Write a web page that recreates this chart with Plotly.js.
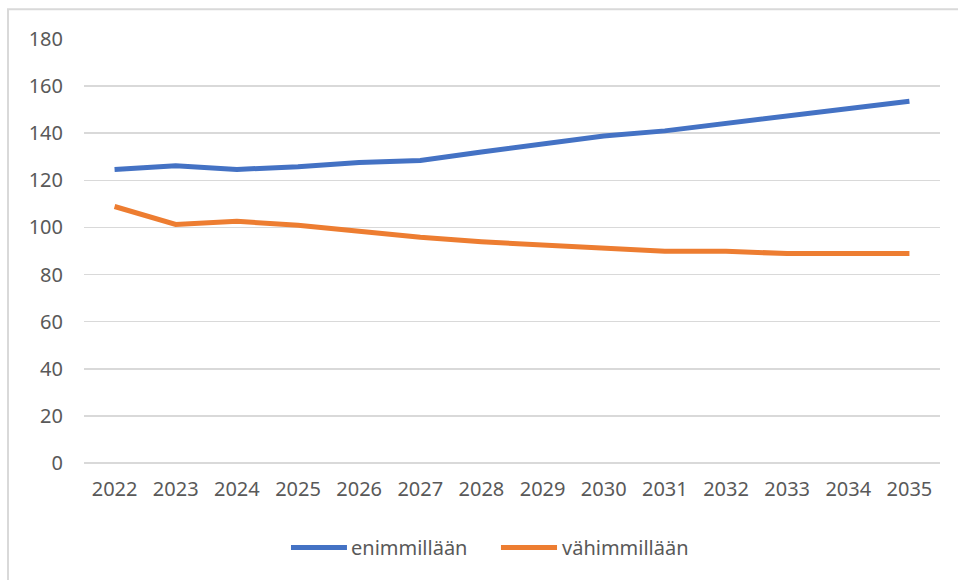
<!DOCTYPE html>
<html>
<head>
<meta charset="utf-8">
<script src="https://cdn.plot.ly/plotly-3.0.1.min.js"></script>
<style>
  html, body { margin: 0; padding: 0; background: #ffffff; }
  #chart { width: 958px; height: 580px; }
</style>
</head>
<body>
<div id="chart"></div>
<script>
const years = ["2022","2023","2024","2025","2026","2027","2028","2029","2030","2031","2032","2033","2034","2035"];
const enimmillaan = [124.6, 126.2, 124.6, 125.8, 127.6, 128.4, 132.0, 135.2, 138.8, 141.0, 144.1, 147.6, 150.5, 153.6];
const vahimmillaan = [108.9, 101.3, 102.6, 100.9, 98.4, 95.8, 93.9, 92.4, 91.3, 89.9, 89.9, 88.9, 88.9, 88.9];
const seriesNames = ["enimmillään", "vähimmillään"];
const seriesColors = ['#4472C4', '#ED7D31'];
const yTicks = [0, 20, 40, 60, 80, 100, 120, 140, 160, 180];

const fontFam = '"Noto Sans", "Open Sans", "DejaVu Sans", sans-serif';
const textColor = '#595959';
const gridColor = '#d9d9d9';

const traces = [
  {
    x: years, y: enimmillaan, name: seriesNames[0], type: 'scatter', mode: 'lines',
    line: { color: seriesColors[0], width: 5, shape: 'linear' }
  },
  {
    x: years, y: vahimmillaan, name: seriesNames[1], type: 'scatter', mode: 'lines',
    line: { color: seriesColors[1], width: 5, shape: 'linear' }
  }
];

// Legend drawn in Excel style (long line keys) below the plot
const legendY = -0.199;
const legendItems = [
  { x0: 0.2418, x1: 0.3072, tx: 0.3100 },
  { x0: 0.4871, x1: 0.5526, tx: 0.5560 }
];
const legendShapes = legendItems.map((it, i) => ({
  type: 'line', xref: 'paper', yref: 'paper',
  x0: it.x0, x1: it.x1, y0: legendY, y1: legendY,
  line: { color: seriesColors[i], width: 5 }
}));
const legendAnnots = legendItems.map((it, i) => ({
  xref: 'paper', yref: 'paper', x: it.tx, y: legendY,
  xanchor: 'left', yanchor: 'middle', showarrow: false,
  text: seriesNames[i],
  font: { family: fontFam, size: 20, color: textColor }
}));

const layout = {
  width: 958, height: 580,
  margin: { l: 84, r: 18, t: 39, b: 117 },
  paper_bgcolor: '#ffffff',
  plot_bgcolor: '#ffffff',
  font: { family: fontFam, size: 20, color: textColor },
  showlegend: false,
  xaxis: {
    type: 'category', range: [-0.5, 13.5],
    showgrid: false, zeroline: false, showline: false, ticks: '',
    ticklabelstandoff: 12,
    tickfont: { family: fontFam, size: 20, color: textColor },
    fixedrange: true
  },
  yaxis: {
    range: [0, 180], tickvals: yTicks, ticktext: yTicks.map(String),
    showgrid: true, gridcolor: gridColor, gridwidth: 1.5,
    zeroline: true, zerolinecolor: gridColor, zerolinewidth: 1.5,
    showline: false, ticks: '',
    ticklabelstandoff: 20,
    tickfont: { family: fontFam, size: 20, color: textColor },
    fixedrange: true
  },
  annotations: legendAnnots,
  shapes: [
    {
      type: 'rect', xref: 'paper', yref: 'paper',
      x0: -0.0888, x1: 1.2, y0: -0.4, y1: 1.07,
      line: { color: '#d9d9d9', width: 2 }, fillcolor: 'rgba(0,0,0,0)', layer: 'below'
    }
  ].concat(legendShapes)
};

Plotly.newPlot('chart', traces, layout, { staticPlot: true, displayModeBar: false });
</script>
</body>
</html>
